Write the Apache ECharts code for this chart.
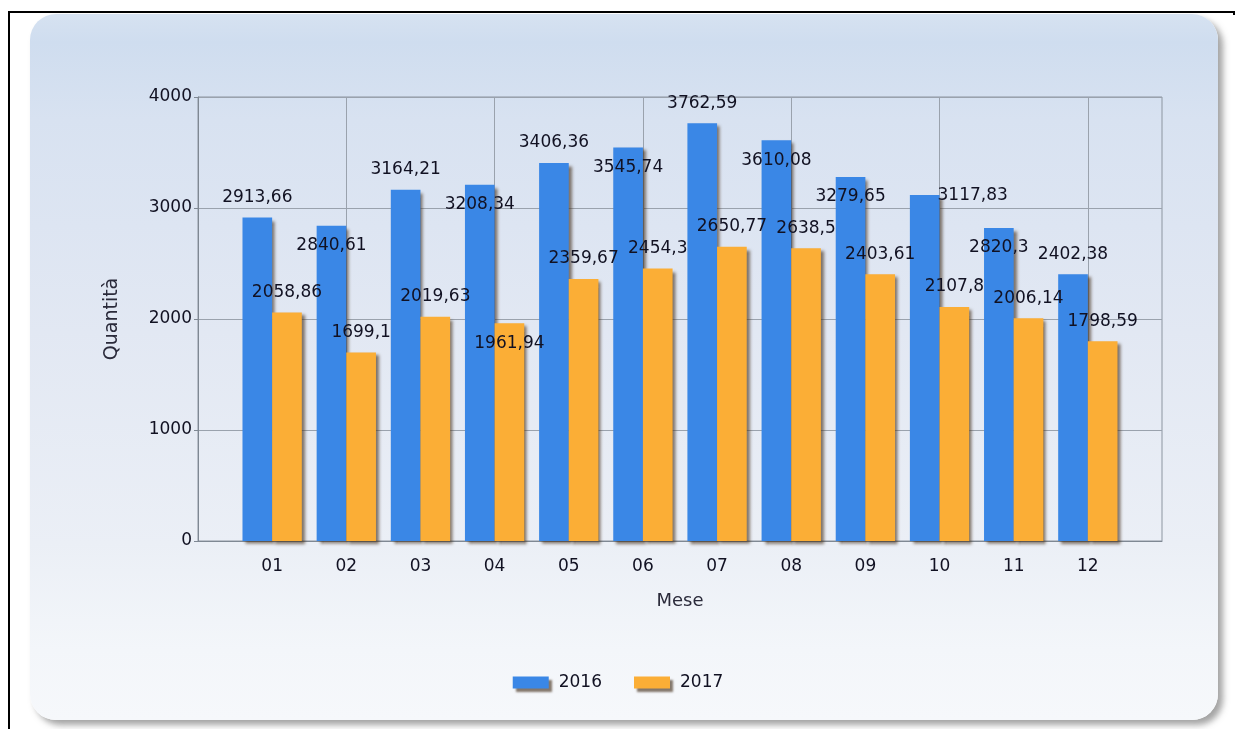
<!DOCTYPE html>
<html>
<head>
<meta charset="utf-8">
<script src="https://cdn.jsdelivr.net/npm/echarts@6/dist/echarts.min.js"></script>
<style>
  html, body { margin: 0; padding: 0; background: #ffffff; }
  #wrap { position: relative; width: 1236px; height: 729px; overflow: hidden; }
  #frame { position: absolute; left: 8px; top: 11px; width: 1226px; height: 730px;
           border-top: 2px solid #000; border-left: 2px solid #000; box-sizing: border-box; }
  #tick { position: absolute; left: 1233px; top: 11px; width: 2px; height: 4px; background: #000; }
  #panel { position: absolute; left: 30px; top: 14px; width: 1188px; height: 706px;
           border-radius: 26px;
           background: linear-gradient(to bottom, #d6e2f1 0%, #cfddef 4%, #d8e2f1 15%, #e2e8f3 45%, #ebeff6 75%, #f3f6fa 90%, #f6f8fb 100%);
           box-shadow: 5px 5px 6px rgba(90,90,90,0.55); }
  #chart { position: absolute; left: 0; top: 0; width: 1236px; height: 729px; }
</style>
</head>
<body>
<div id="wrap">
  <div id="frame"></div>
  <div id="tick"></div>
  <div id="panel"></div>
  <div id="chart"></div>
</div>
<script>
// ---- data ----
var months = ['01','02','03','04','05','06','07','08','09','10','11','12'];
var seriesNames = ['2016','2017'];
var values2016 = [2913.66, 2840.61, 3164.21, 3208.34, 3406.36, 3545.74, 3762.59, 3610.08, 3279.65, 3117.83, 2820.3, 2402.38];
var values2017 = [2058.86, 1699.1, 2019.63, 1961.94, 2359.67, 2454.3, 2650.77, 2638.5, 2403.61, 2107.8, 2006.14, 1798.59];
var yTicks = [0, 1000, 2000, 3000, 4000];

// ---- label placement styles (not data) ----
var place2016 = ['up','down','up','down','up','down','up','down','down','right','down','up'];
var place2017 = ['up','up','up','down','up','up','up','up','up','up','up','up'];
var offsets = { up: [0, -20], down: [0, 20], right: [48, 1] };

var axisCats = [''].concat(months).concat(['']);
function build(vals, places) {
  var arr = [null];
  vals.forEach(function (v, i) {
    arr.push({ value: v, label: { offset: offsets[places[i]] } });
  });
  arr.push(null);
  return arr;
}

var FONT = 'DejaVu Sans';
var TXT = '#111122';
var labelCfg = {
  show: true, position: 'top', distance: 0, align: 'center', verticalAlign: 'middle',
  fontFamily: FONT, fontSize: 17, color: TXT,
  formatter: function (p) { return String(p.value).replace('.', ','); }
};
var shadow = { shadowBlur: 3, shadowOffsetX: 3, shadowOffsetY: 3, shadowColor: 'rgba(70,50,30,0.65)' };

var chart = echarts.init(document.getElementById('chart'), null, { renderer: 'canvas' });
chart.setOption({
  backgroundColor: 'transparent',
  animation: false,
  grid: { left: 198, right: 74, top: 97, bottom: 188, show: true, borderColor: '#8c95a0', borderWidth: 1, backgroundColor: 'transparent' },
  legend: {
    data: seriesNames, left: 'center', top: 669, itemWidth: 36, itemHeight: 12, itemGap: 32,
    textStyle: { fontFamily: FONT, fontSize: 17, color: TXT, padding: [0, 0, 0, 5] },
    itemStyle: { shadowBlur: 2, shadowOffsetX: 3, shadowOffsetY: 3, shadowColor: 'rgba(70,50,30,0.65)' },
    icon: 'rect'
  },
  xAxis: {
    type: 'category', data: axisCats, boundaryGap: false,
    name: 'Mese', nameLocation: 'middle', nameGap: 51,
    nameTextStyle: { fontFamily: FONT, fontSize: 18, color: '#2a2a3a' },
    axisLine: { lineStyle: { color: '#7f8893', width: 1 } },
    axisTick: { show: false },
    axisLabel: { interval: 0, margin: 17, fontFamily: FONT, fontSize: 17, color: TXT },
    splitLine: { show: true, interval: function (i) { return i % 2 === 0; }, lineStyle: { color: '#9aa2ad', width: 1 } }
  },
  yAxis: {
    type: 'value', min: yTicks[0], max: yTicks[yTicks.length - 1], interval: yTicks[1] - yTicks[0],
    name: 'Quantità', nameLocation: 'middle', nameGap: 76, nameRotate: 90,
    nameTextStyle: { fontFamily: FONT, fontSize: 19, color: '#2a2a3a' },
    axisLine: { show: true, lineStyle: { color: '#7f8893', width: 1 } },
    axisTick: { show: true, length: 4, lineStyle: { color: '#7f8893' } },
    axisLabel: { margin: 6, fontFamily: FONT, fontSize: 17, color: TXT, formatter: function (v) { return String(v); } },
    splitLine: { show: true, lineStyle: { color: '#9aa2ad', width: 1 } }
  },
  series: [
    {
      name: seriesNames[0], type: 'bar', data: build(values2016, place2016),
      barWidth: '40%', barGap: '0%',
      itemStyle: Object.assign({ color: '#3a87e6' }, shadow),
      label: labelCfg, z: 2
    },
    {
      name: seriesNames[1], type: 'bar', data: build(values2017, place2017),
      barWidth: '40%', barGap: '0%',
      itemStyle: Object.assign({ color: '#fbae36' }, shadow),
      label: labelCfg, z: 3
    }
  ]
});
</script>
</body>
</html>
